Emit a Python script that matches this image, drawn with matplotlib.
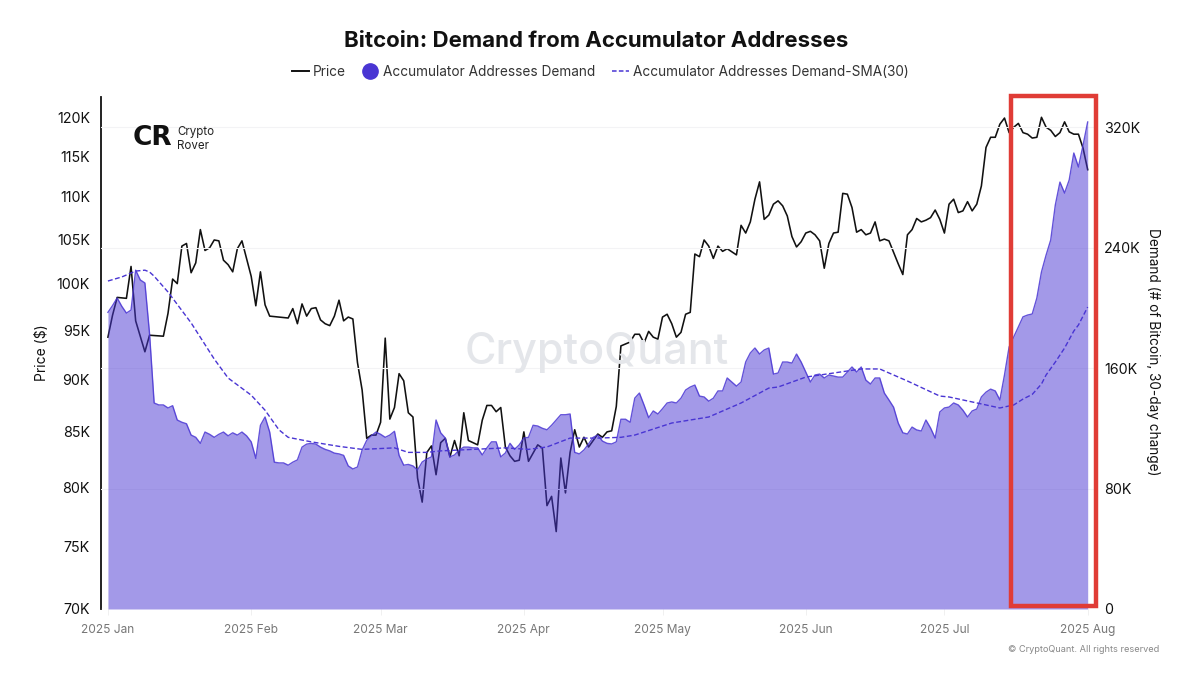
"""Bitcoin demand from accumulator addresses, redrawn from a CryptoQuant chart."""

import numpy as np
import matplotlib.pyplot as plt
from matplotlib.lines import Line2D
from matplotlib.patches import Rectangle
from matplotlib.ticker import FixedLocator, NullLocator

plt.rcParams["font.family"] = ["Inter", "DejaVu Sans"]

START = np.datetime64("2025-01-01")

month_dates = ["2025-01-01", "2025-02-01", "2025-03-01", "2025-04-01",
               "2025-05-01", "2025-06-01", "2025-07-01", "2025-08-01"]
month_labels = ["2025 Jan", "2025 Feb", "2025 Mar", "2025 Apr",
                "2025 May", "2025 Jun", "2025 Jul", "2025 Aug"]

price_ticks = [70, 75, 80, 85, 90, 95, 100, 105, 110, 115, 120]
demand_ticks = [0, 80, 160, 240, 320]

# days since Jan 1, price in $K
price_days = [0, 1, 2, 4, 5, 6, 8, 9, 12, 13, 14, 15, 16, 17, 18, 19, 20, 21, 22, 23,
              24, 25, 26, 27, 28, 29, 31, 32, 33, 34, 35, 39, 40, 41, 42, 43, 44, 45, 46, 47,
              48, 49, 50, 51, 52, 53, 54, 55, 56, 57, 58, 59, 60, 61, 62, 63, 64, 65, 66, 67,
              68, 69, 70, 71, 72, 73, 74, 75, 76, 77, 78, 79, 80, 81, 82, 83, 84, 85, 86, 87,
              88, 89, 90, 91, 93, 94, 95, 96, 97, 98, 99, 100, 101, 102, 103, 104, 106, 107, 108, 109,
              110, 111, 112, 113, 114, 115, 116, 117, 118, 119, 120, 121, 122, 123, 124, 125, 126, 127, 128, 129,
              130, 131, 132, 133, 134, 136, 137, 138, 139, 140, 141, 142, 143, 144, 145, 146, 147, 148, 149, 150,
              151, 152, 153, 154, 155, 156, 157, 158, 159, 160, 161, 162, 163, 164, 165, 166, 167, 168, 169, 170,
              171, 172, 173, 174, 175, 176, 177, 178, 179, 180, 181, 182, 183, 184, 185, 186, 187, 188, 189, 190,
              191, 192, 193, 194, 195, 196, 197, 198, 199, 200, 201, 202, 203, 204, 205, 206, 207, 208, 209, 210,
              211, 212]
price_k = [94.3, 96.6, 98.5, 98.4, 101.9, 96.0, 92.8, 94.5, 94.4, 96.8, 100.5, 100.0, 104.2, 104.5, 101.2, 102.3, 106.1, 103.7, 104.0, 104.9,
           104.8, 102.6, 102.1, 101.3, 103.9, 104.8, 100.8, 97.6, 101.3, 97.7, 96.5, 96.3, 97.3, 95.7, 97.8, 96.5, 97.3, 97.4, 96.1, 95.7,
           95.5, 96.5, 98.2, 96.0, 96.4, 96.2, 91.7, 89.0, 84.4, 84.7, 84.7, 85.9, 94.2, 86.2, 87.3, 90.6, 89.9, 86.8, 86.4, 80.8,
           78.7, 83.1, 83.7, 81.1, 84.0, 84.4, 82.7, 84.2, 82.8, 86.8, 84.2, 84.0, 83.8, 86.1, 87.5, 87.5, 86.9, 87.3, 83.6, 82.8,
           82.3, 82.4, 85.0, 82.3, 83.8, 83.5, 78.4, 79.2, 76.2, 82.6, 79.5, 83.1, 85.2, 83.6, 84.5, 83.6, 84.8, 84.5, 85.0, 85.1,
           87.4, 93.4, 93.6, 93.8, 94.6, 94.6, 93.7, 94.9, 94.3, 94.1, 96.4, 96.7, 95.7, 94.3, 94.8, 96.7, 96.9, 103.3, 103.0, 104.9,
           104.2, 102.8, 104.2, 103.6, 103.9, 103.2, 106.6, 105.7, 107.0, 109.7, 111.8, 107.3, 107.8, 109.1, 109.5, 108.9, 107.7, 105.3, 104.1, 104.7,
           105.7, 105.9, 105.5, 104.8, 101.7, 104.5, 105.7, 105.8, 110.4, 110.3, 108.7, 105.8, 106.1, 105.5, 105.7, 107.0, 104.8, 105.0, 104.8, 103.5,
           102.2, 101.0, 105.5, 106.1, 107.4, 107.0, 107.2, 107.5, 108.4, 107.3, 105.7, 109.1, 109.7, 108.1, 108.3, 109.4, 108.3, 109.1, 111.3, 116.1,
           117.4, 117.4, 119.1, 119.9, 118.0, 118.7, 119.2, 118.0, 117.8, 117.3, 117.4, 120.0, 118.7, 118.3, 117.5, 118.0, 119.4, 118.1, 117.8, 117.8,
           116.0, 113.3]

# daily, Jan 1 onward, thousands of BTC
demand_k = [197, 201.5, 206.5, 201, 196.5, 198.5, 225, 218.5, 216.5, 183,
            136.8, 135.5, 135.5, 133.5, 135, 125.5, 124, 123, 115.5, 114,
            110, 117.5, 116, 114, 116, 117.5, 115, 117, 115.5, 117.5,
            115, 111, 100, 122, 127.5, 117.5, 97.5, 97, 97, 95.5,
            97.5, 99, 107.5, 109.5, 110, 109.5, 107.5, 106, 105, 103.5,
            103, 102, 95, 93, 94.3, 105.5, 112, 115, 117.5, 116,
            114, 115.5, 118, 102, 95.5, 96, 95, 92.3, 97.6, 99.6,
            101, 125.5, 117, 113.5, 101, 102.3, 105.6, 107.5, 107.5, 107,
            107, 102.3, 107, 111, 111, 101, 103.6, 110, 106, 109,
            113.5, 114, 122, 121.5, 120, 119, 122, 125.5, 129, 129,
            129.5, 104, 103, 105.6, 109.6, 114, 115.5, 111.5, 110, 109.6,
            111, 126, 126, 124, 140, 143.4, 135.5, 127, 131.5, 129.5,
            133, 136.8, 137.5, 136.8, 140, 145.4, 147.4, 148.7, 141.4, 140.8,
            138, 140, 144.8, 144.8, 153.4, 150.7, 148, 150.7, 164, 170,
            173.3, 169.3, 172, 173.3, 156, 156.7, 164, 164, 163.3, 169.3,
            164, 157.4, 150.7, 155.4, 156, 153.4, 155.4, 154.7, 154, 154,
            157.4, 160.7, 157.4, 160.7, 152, 149.4, 153.4, 153.4, 143.4, 138.8,
            134, 123.5, 117, 116.2, 120.8, 118.9, 118.2, 125.5, 120.2, 113.5,
            130.8, 133.5, 134.1, 136.8, 135.5, 132, 127.5, 131.5, 132.8, 140.8,
            144, 146, 144.8, 138.8, 155.4, 174, 180.6, 187.3, 194, 195.2,
            195.9, 206.5, 223.8, 235, 245, 268.3, 283.5, 276.2, 284.9, 302.8,
            293.5, 308, 323.4]

sma_days = [0, 3, 6, 8, 9, 10, 13, 18, 23, 26, 31, 34, 37, 39, 44, 50, 55, 62, 65, 69,
            72, 79, 86, 91, 95, 100, 106, 111, 114, 116, 122, 130, 137, 143, 145, 151, 157, 163, 167, 173,
            180, 182, 187, 193, 196, 198, 200, 202, 203, 205, 207, 209, 210, 212]
sma_k = [217.8, 220.5, 224.4, 225, 223.8, 221, 210.5, 190, 166, 153.4, 142, 132, 119, 114, 111, 108, 106, 107, 104, 104,
         105, 106, 107, 106, 107.6, 113.5, 113.5, 114, 115.5, 117.5, 123.5, 127.5, 136.8, 146.7, 147.4, 154, 156.7, 159.4, 159.4, 151.4,
         141.4, 140.8, 137.5, 133.5, 135.5, 139.4, 142.5, 149.4, 155.4, 164, 173.3, 184.6, 188.6, 200.5]

PURPLE = "#4935D3"
W, H = 1200, 679


def to_dates(days):
    return START + np.array(days, dtype="timedelta64[D]")


def main():
    fig = plt.figure(figsize=(W / 100, H / 100), dpi=100)
    ax = fig.add_axes([101 / W, 1 - 609 / H, (1095 - 101) / W, (609 - 97) / H])
    ax2 = ax.twinx()

    ax.plot(to_dates(price_days), price_k, color="#111111", linewidth=1.15)
    ax.set_yscale("log")
    ax.set_ylim(70, 122.7)
    ax.yaxis.set_major_locator(FixedLocator(price_ticks))
    ax.yaxis.set_minor_locator(NullLocator())
    ax.set_yticklabels([f"{t}K" for t in price_ticks], fontsize=10.3, color="#111111")
    ax.tick_params(axis="y", length=0, pad=8)
    ax.set_xlim(START - np.timedelta64(36, "h"), START + np.timedelta64(5126, "h"))
    ax.set_xticks(np.array(month_dates, dtype="datetime64[D]"))
    ax.set_xticklabels(month_labels, fontsize=8.6, color="#777777", va="baseline")
    ax.tick_params(axis="x", length=4, width=0.6, color="#eeeeee", pad=13)

    days = np.arange(len(demand_k))
    ax2.fill_between(to_dates(days), demand_k, 0, color=PURPLE, alpha=0.5, linewidth=0)
    ax2.plot(to_dates(days), demand_k, color=PURPLE, linewidth=1.0, alpha=0.85)
    ax2.plot(to_dates(sma_days), sma_k, color=PURPLE, linewidth=1.0, linestyle=(0, (3.5, 1.8)))
    ax2.set_ylim(0, 340)
    ax2.set_yticks(demand_ticks)
    ax2.set_yticklabels(["0"] + [f"{t}K" for t in demand_ticks[1:]], fontsize=10.3, color="#111111")
    ax2.tick_params(axis="y", length=0, pad=6.5)
    ax2.set_axisbelow(True)
    ax2.grid(axis="y", color="#f3f3f5", linewidth=0.8)

    for a in (ax, ax2):
        for side in ("top", "right", "bottom", "left"):
            a.spines[side].set_visible(False)
    ax.spines["left"].set_visible(True)
    ax.spines["left"].set_linewidth(1.3)
    ax.spines["left"].set_color("#111111")

    def px(x, y):
        return x / W, 1 - y / H

    fig.text(*px(596, 41), "Bitcoin: Demand from Accumulator Addresses", ha="center", va="center",
             fontsize=16, fontweight="bold", color="#111111")
    handles = [
        Line2D([], [], color="#111111", linewidth=1.4),
        Line2D([], [], color=PURPLE, marker="o", markersize=11, linestyle="none"),
        Line2D([], [], color=PURPLE, linewidth=1.1, linestyle=(0, (3, 1.5))),
    ]
    fig.legend(handles, ["Price", "Accumulator Addresses Demand", "Accumulator Addresses Demand-SMA(30)"],
               loc="center", bbox_to_anchor=px(600, 72), ncol=3, frameon=False, fontsize=9.8,
               labelcolor="#333333", handlelength=1.25, handletextpad=0.3, columnspacing=1.2)

    fig.text(*px(42, 353), "Price ($)", rotation=90, ha="center", va="center", fontsize=10, color="#111111")
    fig.text(*px(1153, 352), "Demand (# of Bitcoin, 30-day change)", rotation=270, ha="center", va="center",
             fontsize=9.8, color="#111111")
    fig.text(*px(1159, 649), "© CryptoQuant. All rights reserved", ha="right", va="center",
             fontsize=6.6, color="#888888")

    # watermark and logo
    fig.text(*px(597, 352), "CryptoQuant", ha="center", va="center", fontsize=31, fontweight="medium",
             color="#e4e6ea", zorder=0.5)
    fig.text(*px(152, 138), "CR", ha="center", va="center", fontsize=19, fontweight="black",
             family=["DejaVu Sans"], color="#111111")
    fig.text(*px(177, 139), "Crypto\nRover", ha="left", va="center", fontsize=8.3, color="#222222", linespacing=1.15)

    # red highlight box around the last weeks
    fig.add_artist(Rectangle(px(1011, 606), 84.5 / W, (606 - 96) / H, transform=fig.transFigure,
                             fill=False, edgecolor="#E03C36", linewidth=3.2, zorder=5))

    fig.savefig("out.png", dpi=100)


if __name__ == "__main__":
    main()
